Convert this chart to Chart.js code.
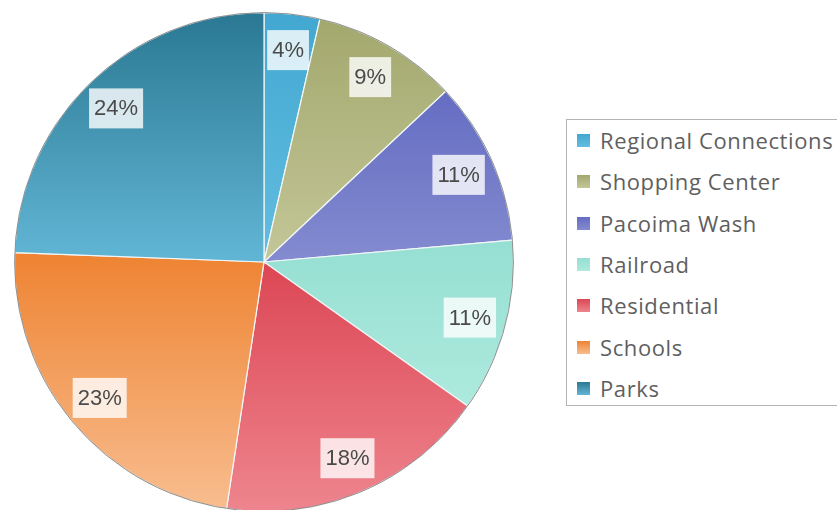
<!DOCTYPE html>
<html>
<head>
<meta charset="utf-8">
<script src="https://cdn.jsdelivr.net/npm/chart.js@4/dist/chart.umd.min.js"></script>
<style>
    html, body { margin: 0; padding: 0; background: #fff; }
    body { width: 837px; height: 510px; overflow: hidden; position: relative; }
    #pie-wrap { position: absolute; left: 0; top: 0; width: 528px; height: 528px; }
    #legend {
        position: absolute; left: 566px; top: 119px; width: 300px; height: 287px;
        border: 1px solid #b4b4b4; box-sizing: border-box; background: #fff;
    }
    #legend ul { list-style: none; margin: 0; padding: 0; }
    #legend li {
        position: absolute; left: 0; height: 30px; line-height: 30px;
        font-family: "Open Sans", sans-serif; font-size: 22px; letter-spacing: 0.6px;
        color: #5f5f5f; white-space: nowrap;
    }
    #legend .swatch {
        position: absolute; left: 10px; top: 8px; width: 13px; height: 13px;
    }
    #legend .txt { position: absolute; left: 33px; top: -1px; }
</style>
</head>
<body>
<div id="pie-wrap"><canvas id="pie"></canvas></div>
<div id="legend"><ul id="legend-list"></ul></div>
<script>
// Slice order is clockwise from 12 o'clock, same as the legend.
const LABELS = ['Regional Connections', 'Shopping Center', 'Pacoima Wash', 'Railroad', 'Residential', 'Schools', 'Parks'];
const SHARES = [3.6, 9.4, 10.6, 11.2, 17.6, 23.2, 24.4];

// Each slice fades from a darker top to a lighter bottom.
const TOP_COLORS = ['#42a8d1', '#a3a86e', '#646dc2', '#95dfd2', '#dc4654', '#ee8332', '#2a7893'];
const BOTTOM_COLORS = ['#63bde0', '#c3c697', '#848bd0', '#aeeade', '#ee858e', '#f8bd8f', '#62b6d5'];

const TOTAL = SHARES.reduce((s, v) => s + v, 0);
const pct = (v) => `${Math.round(v / TOTAL * 100)}%`;

// Vertical gradient fitted to the slice's own bounding box.
function sliceFill(ctx) {
    const i = ctx.dataIndex;
    const area = ctx.chart.chartArea;
    if (!area) return TOP_COLORS[i];
    const cx = (area.left + area.right) / 2;
    const cy = (area.top + area.bottom) / 2;
    const r = Math.min(area.width, area.height) / 2;
    const before = SHARES.slice(0, i).reduce((s, v) => s + v, 0);
    const a0 = -Math.PI / 2 + before / TOTAL * 2 * Math.PI;
    const a1 = a0 + SHARES[i] / TOTAL * 2 * Math.PI;
    const ys = [cy, cy + r * Math.sin(a0), cy + r * Math.sin(a1)];
    if (a0 <= Math.PI / 2 && a1 >= Math.PI / 2) ys.push(cy + r);
    if (a1 >= 3 * Math.PI / 2) ys.push(cy - r);
    const g = ctx.chart.ctx.createLinearGradient(0, Math.min(...ys), 0, Math.max(...ys));
    g.addColorStop(0, TOP_COLORS[i]);
    g.addColorStop(1, BOTTOM_COLORS[i]);
    return g;
}

// Thin grey rim plus the boxed percentage labels.
const pieExtras = {
    id: 'pieExtras',
    afterDatasetsDraw(chart) {
        const c = chart.ctx;
        const arcs = chart.getDatasetMeta(0).data;
        if (!arcs.length) return;
        const p0 = arcs[0].getProps(['x', 'y', 'outerRadius'], true);
        c.save();
        c.beginPath();
        c.arc(p0.x, p0.y, p0.outerRadius, 0, 2 * Math.PI);
        c.strokeStyle = 'rgba(110,110,110,0.75)';
        c.lineWidth = 1;
        c.stroke();

        c.font = '22px "Liberation Sans", Arial, sans-serif';
        c.textAlign = 'center';
        c.textBaseline = 'middle';
        arcs.forEach((arc, i) => {
            const p = arc.getProps(['x', 'y', 'startAngle', 'endAngle', 'outerRadius'], true);
            const mid = (p.startAngle + p.endAngle) / 2;
            const d = p.outerRadius * 0.855;
            const lx = p.x + Math.cos(mid) * d;
            const ly = p.y + Math.sin(mid) * d;
            const text = pct(SHARES[i]);
            const w = c.measureText(text).width + 10;
            const h = 40;
            c.fillStyle = 'rgba(255,255,255,0.8)';
            c.fillRect(lx - w / 2, ly - h / 2, w, h);
            c.fillStyle = '#4a4a4a';
            c.fillText(text, lx, ly + 1);
        });
        c.restore();
    },
};

function renderLegend() {
    const list = document.getElementById('legend-list');
    list.innerHTML = LABELS.map((name, i) => `
        <li style="top:${6 + i * 41.3}px">
            <span class="swatch" style="background:linear-gradient(${TOP_COLORS[i]}, ${BOTTOM_COLORS[i]})"></span>
            <span class="txt">${name}</span>
        </li>`).join('');
}

new Chart(document.getElementById('pie'), {
    type: 'pie',
    data: {
        labels: LABELS,
        datasets: [{
            data: SHARES,
            backgroundColor: sliceFill,
            borderColor: '#f2f7f7',
            borderWidth: 1.2,
        }],
    },
    options: {
        responsive: true,
        maintainAspectRatio: false,
        animation: false,
        layout: { padding: { top: 12, bottom: 16, left: 14, right: 14 } },
        plugins: {
            legend: { display: false },
            tooltip: { enabled: false },
        },
    },
    plugins: [pieExtras],
});

renderLegend();
</script>
</body>
</html>
